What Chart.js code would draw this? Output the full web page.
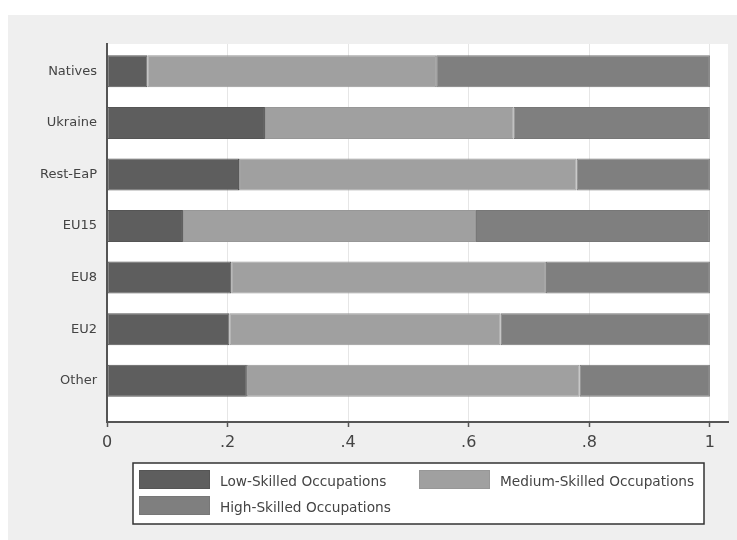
<!DOCTYPE html>
<html>
<head>
<meta charset="utf-8">
<script src="https://cdn.jsdelivr.net/npm/chart.js@4/dist/chart.umd.min.js"></script>
<style>
  html, body { margin: 0; padding: 0; background: #fff; }
  #wrap { width: 737px; height: 540px; }
</style>
</head>
<body>
<div id="wrap"><canvas id="occ-chart" width="737" height="540"></canvas></div>
<script>
const groups = ['Natives', 'Ukraine', 'Rest-EaP', 'EU15', 'EU8', 'EU2', 'Other']
const lowSkilled = [0.067, 0.262, 0.219, 0.126, 0.206, 0.203, 0.232]
const mediumSkilled = [0.479, 0.412, 0.560, 0.486, 0.522, 0.450, 0.552]
const highSkilled = [0.454, 0.326, 0.221, 0.388, 0.272, 0.347, 0.216]
const xTicks = [0, 0.2, 0.4, 0.6, 0.8, 1]

const seriesNames = [
  'Low-Skilled Occupations',
  'Medium-Skilled Occupations',
  'High-Skilled Occupations',
]
const fills = ['#5e5e5e', '#a0a0a0', '#7f7f7f']
const edges = ['#555555', '#979797', '#777777']

const font = 'DejaVu Sans'
const textColor = '#444'

// bars sit on a numeric y axis so the plot can carry Stata's extra bottom margin
const toPoints = (vals) => vals.map((v, i) => ({ x: v, y: i }))

const data = {
  datasets: [lowSkilled, mediumSkilled, highSkilled].map((vals, i) => ({
    label: seriesNames[i],
    data: toPoints(vals),
    backgroundColor: fills[i],
    borderColor: edges[i],
    borderWidth: 1,
    borderSkipped: false,
    categoryPercentage: 1,
    barPercentage: 0.62,
  })),
}

const backdrop = {
  id: 'backdrop',
  beforeDraw(chart) {
    const { ctx, chartArea: a } = chart
    ctx.save()
    ctx.fillStyle = '#ffffff'
    ctx.fillRect(0, 0, chart.width, chart.height)
    ctx.fillStyle = '#efefef'
    ctx.fillRect(8, 15, chart.width - 8, chart.height - 15)
    ctx.fillStyle = '#ffffff'
    ctx.fillRect(a.left, a.top, a.right - a.left, a.bottom - a.top)
    ctx.restore()
  },
}

// Stata-style legend: boxed, two columns
const boxLegend = {
  id: 'boxLegend',
  afterDraw(chart) {
    const { ctx } = chart
    const box = { x: 133, y: 463, w: 571, h: 61 }
    const slots = [
      { x: 139, y: 470 },
      { x: 419, y: 470 },
      { x: 139, y: 496 },
    ]
    ctx.save()
    ctx.fillStyle = '#ffffff'
    ctx.fillRect(box.x, box.y, box.w, box.h)
    ctx.strokeStyle = '#333'
    ctx.lineWidth = 1.5
    ctx.strokeRect(box.x, box.y, box.w, box.h)
    ctx.font = '13.7px "' + font + '"'
    ctx.textBaseline = 'middle'
    chart.data.datasets.forEach((ds, i) => {
      const s = slots[i]
      ctx.fillStyle = ds.backgroundColor
      ctx.fillRect(s.x, s.y, 71, 19)
      ctx.strokeStyle = ds.borderColor
      ctx.lineWidth = 1
      ctx.strokeRect(s.x + 0.5, s.y + 0.5, 70, 18)
      ctx.fillStyle = textColor
      ctx.fillText(ds.label, s.x + 81, s.y + 12)
    })
    ctx.restore()
  },
}

const config = {
  type: 'bar',
  data,
  plugins: [backdrop, boxLegend],
  options: {
    indexAxis: 'y',
    responsive: false,
    animation: false,
    layout: { padding: { left: 0, top: 44, right: 9, bottom: 0 } },
    plugins: {
      legend: { display: false },
      tooltip: { enabled: false },
    },
    scales: {
      x: {
        type: 'linear',
        stacked: true,
        min: 0,
        max: 1.03,
        afterBuildTicks: (scale) => {
          scale.ticks = xTicks.map((v) => ({ value: v }))
        },
        afterFit: (scale) => {
          scale.height = 118
        },
        grid: {
          color: '#e6e6e6',
          lineWidth: 1,
          tickColor: '#555',
          tickLength: 5,
          tickWidth: 1.5,
        },
        border: { display: true, color: '#555', width: 2 },
        ticks: {
          color: textColor,
          padding: 6,
          font: { family: font, size: 16 },
          maxRotation: 0,
          callback: (v) => (v === 0 ? '0' : v === 1 ? '1' : String(v).replace('0.', '.')),
        },
      },
      y: {
        type: 'linear',
        stacked: true,
        reverse: true,
        offset: false,
        min: -0.53,
        max: 6.8,
        afterBuildTicks: (scale) => {
          scale.ticks = groups.map((g, i) => ({ value: i }))
        },
        afterFit: (scale) => {
          scale.width = 107
        },
        grid: { display: false },
        border: { display: true, color: '#555', width: 2 },
        ticks: {
          color: textColor,
          padding: 2,
          font: { family: font, size: 13 },
          callback: (v) => groups[v],
        },
      },
    },
  },
}

new Chart(document.getElementById('occ-chart'), config)
</script>
</body>
</html>
